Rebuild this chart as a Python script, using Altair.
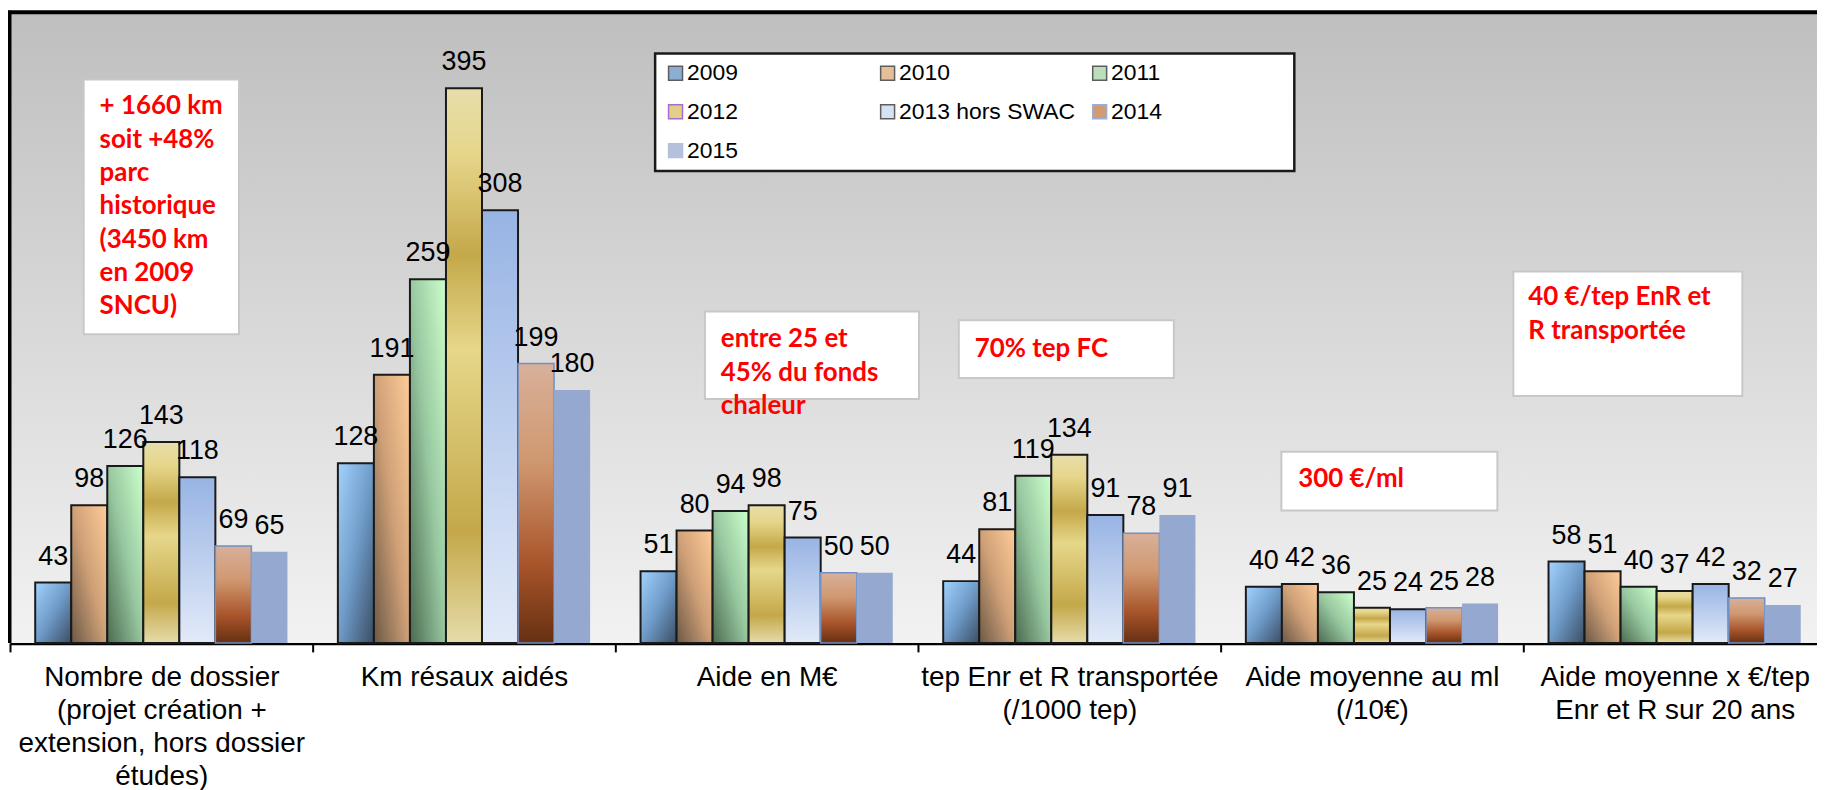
import altair as alt
import pandas as pd

# ---------------- data ----------------
categories = [
    "Nombre de dossier\n(projet création +\nextension, hors dossier\nétudes)",
    "Km résaux aidés",
    "Aide en M€",
    "tep Enr et R transportée\n(/1000 tep)",
    "Aide moyenne au ml\n(/10€)",
    "Aide moyenne x  €/tep\nEnr et R sur 20 ans",
]
years = ["2009", "2010", "2011", "2012", "2013 hors SWAC", "2014", "2015"]
v2009 = [43, 128, 51, 44, 40, 58]
v2010 = [98, 191, 80, 81, 42, 51]
v2011 = [126, 259, 94, 119, 36, 40]
v2012 = [143, 395, 98, 134, 25, 37]
v2013 = [118, 308, 75, 91, 24, 42]
v2014 = [69, 199, 50, 78, 25, 32]
v2015 = [65, 180, 50, 91, 28, 27]
series = [v2009, v2010, v2011, v2012, v2013, v2014, v2015]

notes = [
    "+ 1660 km\nsoit +48%\nparc\nhistorique\n(3450 km\nen 2009\nSNCU)",
    "entre  25 et\n45% du fonds\nchaleur",
    "70% tep FC",
    "300 €/ml",
    "40 €/tep EnR et\nR transportée",
]

rows = []
for yr, vals in zip(years, series):
    for c, v in zip(categories, vals):
        rows.append({"cat": c, "year": yr, "value": v})
df = pd.DataFrame(rows)

# ---------------- styles ----------------
W, H = 1815, 632
YMAX = 448


def grad(stops, x1=0, y1=0, x2=0, y2=1):
    return {"gradient": "linear", "x1": x1, "y1": y1, "x2": x2, "y2": y2,
            "stops": [{"offset": o, "color": c} for o, c in stops]}


bar_fills = [
    grad([(0, "#a2d2ff"), (0.5, "#6f9bc8"), (1, "#3a4d64")], 0, 0, 1, 1),
    grad([(0, "#6c5846"), (0.5, "#cfa077"), (1, "#ffcc99")], 0, 1, 1, 0),
    grad([(0, "#4b6a50"), (0.5, "#97c79f"), (1, "#ccffcc")], 0, 1, 1, 0),
    grad([(0, "#e8ddab"), (0.12, "#e6d68a"), (0.30, "#c4a84a"), (0.47, "#e6d78a"),
          (0.80, "#c4a84a"), (1, "#e6dcaa")]),
    grad([(0, "#98b4e4"), (1, "#e2eaf8")]),
    grad([(0, "#d8b09a"), (0.35, "#d09870"), (0.72, "#a8542a"), (1, "#663012")]),
    "#94a8d0",
]
bar_strokes = ["#1a1a1a", "#1a1a1a", "#1a1a1a", "#1a1a1a", "#1a1a1a", "#6f90c8", "#94a8d0"]
bar_sw = [2, 2, 2, 2, 2, 1.5, 0]

legend_fills = ["#5b8cc0", "#d9a46e", "#9fd1a0", "#d6bc58", "#c6d6f0", "#c0703c", "#94a8d0"]
legend_strokes = ["#1a1a1a", "#1a1a1a", "#1a1a1a", "#8030c0", "#1a1a1a", "#6f90c8", "#94a8d0"]

x_axis = alt.Axis(
    title=None, grid=False, domain=True, domainColor="black", domainWidth=3.5,
    ticks=True, tickBand="extent", tickColor="black", tickWidth=2, tickSize=9,
    labelFont="Liberation Sans", labelFontSize=28, labelColor="black",
    labelLineHeight=33, labelPadding=12, labelAngle=0, labelLimit=500,
    labelExpr="split(datum.label, '\\n')",
)
x_enc = alt.X("cat:N", scale=alt.Scale(domain=categories, range=[0, 1824],
                                        paddingInner=0, paddingOuter=0), axis=x_axis)
xo_enc = alt.XOffset("year:N", scale=alt.Scale(domain=years, paddingInner=0, paddingOuter=0.7))
y_enc = alt.Y("value:Q", scale=alt.Scale(domain=[0, YMAX], nice=False), axis=None)

one = pd.DataFrame({"a": [0]})

layers = []

# plot background gradient
layers.append(
    alt.Chart(one).mark_rect(fill=grad([(0, "#bfbfbf"), (1, "#f2f2f2")]))
    .encode(x=alt.value(0), x2=alt.value(1830), y=alt.value(0), y2=alt.value(H))
)

# bars, one layer per year
for yr, fill, st, sw in zip(years, bar_fills, bar_strokes, bar_sw):
    layers.append(
        alt.Chart(df).transform_filter(alt.datum.year == yr)
        .mark_bar(fill=fill, stroke=st, strokeWidth=sw, opacity=1)
        .encode(x=x_enc, xOffset=xo_enc, y=y_enc)
    )

# value labels
layers.append(
    alt.Chart(df).mark_text(font="Liberation Sans", fontSize=27, color="black",
                            baseline="alphabetic", dy=-18)
    .encode(x=x_enc, xOffset=xo_enc, y=y_enc, text="value:Q")
)

# annotation boxes
boxes = [
    (74, 230, 66, 322, 90, 80),
    (698, 913, 299, 387, 714, 314),
    (953, 1169, 308, 366, 969, 324),
    (1277, 1494, 440, 499, 1294, 454),
    (1510, 1740, 259, 384, 1525, 272),
]
for (bx1, bx2, by1, by2, tx, ty), txt in zip(boxes, notes):
    layers.append(
        alt.Chart(one).mark_rect(fill="white", stroke="#c8c8c8", strokeWidth=2)
        .encode(x=alt.value(bx1), x2=alt.value(bx2), y=alt.value(by1), y2=alt.value(by2))
    )
    layers.append(
        alt.Chart(one).mark_text(align="left", baseline="top", font="Lato", fontWeight="bold",
                                 fontSize=26, color="#ff0000", lineBreak="\n", lineHeight=33.5)
        .encode(x=alt.value(tx), y=alt.value(ty), text=alt.value(txt))
    )

# legend frame
layers.append(
    alt.Chart(one).mark_rect(fill="white", stroke="#1a1a1a", strokeWidth=2.5)
    .encode(x=alt.value(648), x2=alt.value(1290), y=alt.value(40), y2=alt.value(158))
)

# legend (through a mark layer with no rows)
leg = alt.Legend(
    title=None, orient="none", legendX=657, legendY=48, columns=3, gridAlign="all",
    direction="horizontal",
    columnPadding=13, rowPadding=15, symbolType="square", symbolSize=196,
    symbolStrokeWidth=1.5, labelFont="Liberation Sans", labelFontSize=23,
    labelColor="black", labelOffset=0, labelLimit=400, padding=0,
)
layers.append(
    alt.Chart(df).transform_filter("false").mark_square(filled=True)
    .encode(
        x=x_enc, xOffset=xo_enc, y=y_enc,
        color=alt.Color("year:N", scale=alt.Scale(domain=years, range=legend_fills), legend=leg),
        stroke=alt.Stroke("year:N", scale=alt.Scale(domain=years, range=legend_strokes), legend=leg),
    )
)

# chart frame (top and left)
layers.append(
    alt.Chart(one).mark_rule(color="black", strokeWidth=4)
    .encode(x=alt.value(-5), x2=alt.value(1830), y=alt.value(-1.5))
)
layers.append(
    alt.Chart(one).mark_rule(color="black", strokeWidth=4)
    .encode(x=alt.value(-0.5), y=alt.value(-3), y2=alt.value(H))
)

chart = alt.layer(*layers).properties(
    width=W, height=H,
    autosize=alt.AutoSizeParams(type="none"),
    padding={"left": 2, "top": 4, "right": 0, "bottom": 146},
    background="white",
).configure_view(stroke=None)

chart.save("out.html", embed_options={"renderer": "svg", "actions": False})
